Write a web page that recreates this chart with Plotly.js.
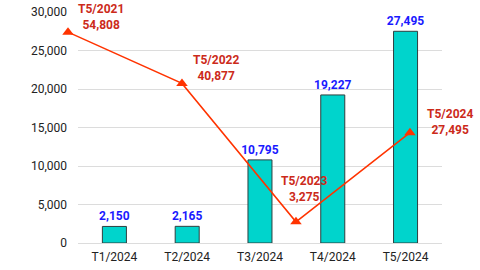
<!DOCTYPE html>
<html><head><meta charset="utf-8">
<script src="https://cdn.plot.ly/plotly-3.0.1.min.js"></script>
<style>html,body{margin:0;padding:0;background:#fff}#c{width:480px;height:270px}</style>
</head><body><div id="c"></div>
<script>
const categories = ['T1/2024','T2/2024','T3/2024','T4/2024','T5/2024'];
const barValues = [2150, 2165, 10795, 19227, 27495];
const lineLabels = ['T5/2021','T5/2022','T5/2023','T5/2024'];
const lineValues = [54808, 40877, 3275, 27495];
const yTicks = [0, 5000, 10000, 15000, 20000, 25000, 30000];

// label placement style (anchor, pixel shifts) for the line labels
const labelStyle = [
  {xanchor: 'left', dx: 8, dy: -2},
  {xanchor: 'left', dx: 9, dy: -2},
  {xanchor: 'center', dx: 8, dy: 16},
  {xanchor: 'left', dx: 15, dy: -6}
];

const fmt = v => v.toLocaleString('en-US');
const FONT = 'Roboto, "Open Sans", sans-serif';

const bars = {
  type: 'bar', x: categories, y: barValues, xaxis: 'x', yaxis: 'y',
  width: 0.33,
  marker: {color: '#00D4CC', line: {color: '#2f3f3f', width: 1}},
  text: barValues.map(fmt), textposition: 'outside', cliponaxis: false,
  constraintext: 'none',
  textfont: {color: '#1a1aff', size: 12, family: FONT, weight: 'bold'},
  hoverinfo: 'skip'
};
const line = {
  type: 'scatter', mode: 'lines+markers', x: lineLabels, y: lineValues,
  xaxis: 'x2', yaxis: 'y2', cliponaxis: false,
  line: {color: '#ff3300', width: 1.5},
  marker: {symbol: 'triangle-up', size: 10, color: '#ff3300'},
  hoverinfo: 'skip'
};

const annotations = lineLabels.map((lab, i) => {
  const s = labelStyle[i];
  return {
    xref: 'x2', yref: 'y2', x: lab, y: lineValues[i], showarrow: false,
    text: '<b>' + lab + '</b><br><b>' + fmt(lineValues[i]) + '</b>',
    font: {color: '#cc2a1a', size: 12, family: FONT},
    xanchor: s.xanchor, yanchor: 'bottom',
    xshift: s.dx, yshift: s.dy, align: 'center'
  };
});

const layout = {
  width: 480, height: 270,
  margin: {l: 40, r: 20, t: 12, b: 27},
  paper_bgcolor: '#ffffff', plot_bgcolor: 'rgba(0,0,0,0)',
  showlegend: false,
  font: {family: FONT, size: 12, color: '#222'},
  xaxis: {domain: [0.0905, 0.957], type: 'category', range: [-0.5, 4.5],
          showgrid: false, zeroline: false, showline: false, ticks: '',
          ticklabelstandoff: 5,
          tickfont: {size: 12, color: '#222'}, fixedrange: true},
  yaxis: {range: [0, 30000], tickvals: yTicks, ticktext: yTicks.map(fmt),
          showgrid: true, gridcolor: '#dcdcdc', gridwidth: 1,
          zeroline: true, zerolinecolor: '#dcdcdc', showline: false,
          ticks: '', ticklabelstandoff: 10, tickfont: {size: 12, color: '#222'}},
  xaxis2: {domain: [0, 1], anchor: 'y2', type: 'category',
           range: [-0.2456, 3.439], visible: false},
  yaxis2: {domain: [0, 1], anchor: 'x2', range: [-2470, 60280], visible: false},
  annotations: annotations
};

Plotly.newPlot('c', [bars, line], layout, {staticPlot: true, displayModeBar: false});
</script></body></html>
